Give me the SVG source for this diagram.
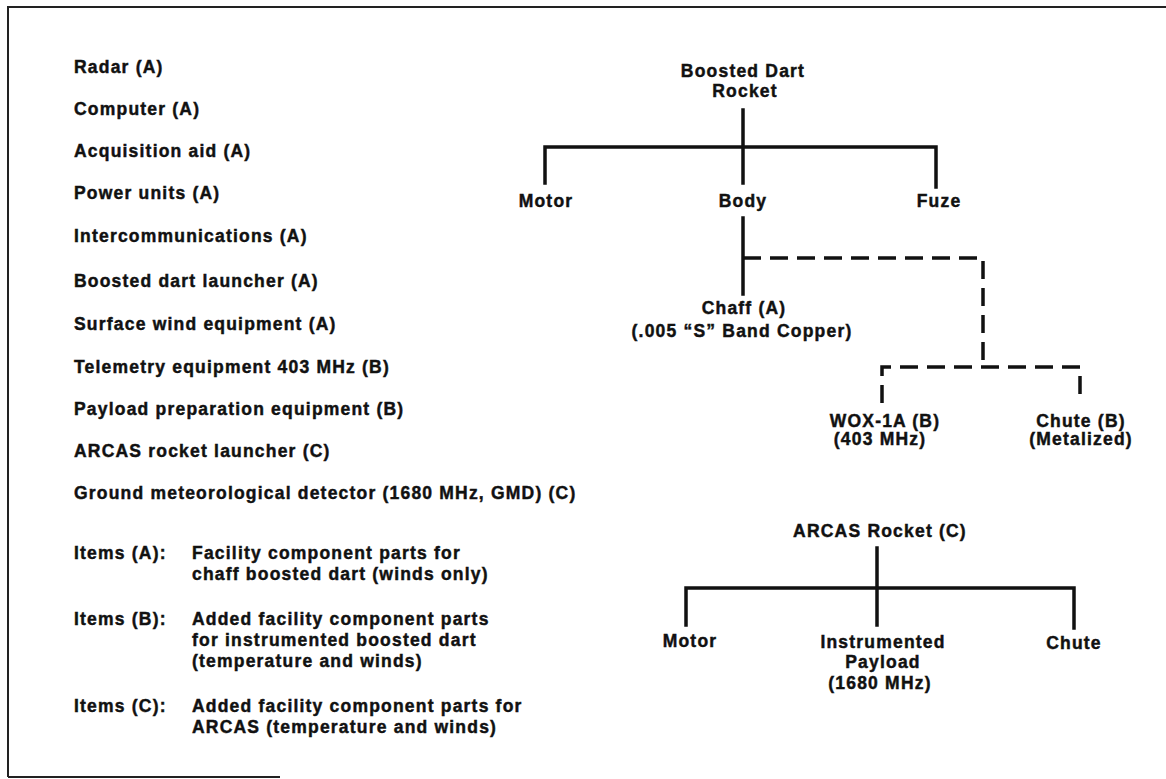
<svg xmlns="http://www.w3.org/2000/svg" width="1166" height="779" viewBox="0 0 1166 779">
<style>
text{font-family:"Liberation Sans",Arial,sans-serif;font-weight:bold;font-size:17.5px;letter-spacing:1.2px;fill:#111;stroke:#111;stroke-width:0.45px}
.c{text-anchor:middle}
.ln{stroke:#111;stroke-width:3.5;fill:none;stroke-linecap:square}
.ds{stroke:#111;stroke-width:3.5;fill:none;stroke-dasharray:18 9}
.fr{stroke:#222;stroke-width:2;fill:none}
</style>
<rect width="1166" height="779" fill="#fff"/>
<g id="frame">
<path class="fr" d="M8 777 V7 H1166"/>
<path class="fr" d="M8 777 H280"/>
</g>
<g id="equipment-list">
<text x="74" y="73">Radar (A)</text>
<text x="74" y="115">Computer (A)</text>
<text x="74" y="157">Acquisition aid (A)</text>
<text x="74" y="199">Power units (A)</text>
<text x="74" y="242">Intercommunications (A)</text>
<text x="74" y="287">Boosted dart launcher (A)</text>
<text x="74" y="330">Surface wind equipment (A)</text>
<text x="74" y="373">Telemetry equipment 403 MHz (B)</text>
<text x="74" y="415">Payload preparation equipment (B)</text>
<text x="74" y="457">ARCAS rocket launcher (C)</text>
<text x="74" y="499">Ground meteorological detector (1680 MHz, GMD) (C)</text>
</g>
<g id="legend">
<text x="74" y="559">Items (A):</text>
<text x="192" y="559">Facility component parts for</text>
<text x="192" y="580">chaff boosted dart (winds only)</text>
<text x="74" y="625">Items (B):</text>
<text x="192" y="625">Added facility component parts</text>
<text x="192" y="646">for instrumented boosted dart</text>
<text x="192" y="667">(temperature and winds)</text>
<text x="74" y="712">Items (C):</text>
<text x="192" y="712">Added facility component parts for</text>
<text x="192" y="733">ARCAS (temperature and winds)</text>
</g>
<g id="connectors">
<path class="ln" d="M743 110 V147 M545 183 V147 H936 V187 M743 147 V183 M743 218 V294"/>
<path class="ds" d="M743 258 H983 V367"/>
<path class="ds" d="M882 403 V367 H1080 V403"/>
<path class="ln" d="M877 548 V588 M686 625 V588 H1074 V628 M877 588 V625"/>
</g>
<g id="boosted-dart-rocket"><text class="c" x="743" y="77">Boosted Dart</text><text class="c" x="745" y="97">Rocket</text></g>
<g id="bd-motor"><text class="c" x="546" y="207">Motor</text></g>
<g id="bd-body"><text class="c" x="743" y="207">Body</text></g>
<g id="bd-fuze"><text class="c" x="939" y="207">Fuze</text></g>
<g id="chaff"><text class="c" x="744" y="314">Chaff (A)</text><text class="c" x="742" y="337">(.005 “S” Band Copper)</text></g>
<g id="wox"><text class="c" x="885" y="427">WOX-1A (B)</text><text class="c" x="880" y="445">(403 MHz)</text></g>
<g id="chute-b"><text class="c" x="1081" y="427">Chute (B)</text><text class="c" x="1081" y="445">(Metalized)</text></g>
<g id="arcas-rocket"><text class="c" x="880" y="537">ARCAS Rocket (C)</text></g>
<g id="arcas-motor"><text class="c" x="690" y="647">Motor</text></g>
<g id="arcas-payload"><text class="c" x="883" y="648">Instrumented</text><text class="c" x="883" y="668">Payload</text><text class="c" x="880" y="689">(1680 MHz)</text></g>
<g id="arcas-chute"><text class="c" x="1074" y="649">Chute</text></g>
</svg>
